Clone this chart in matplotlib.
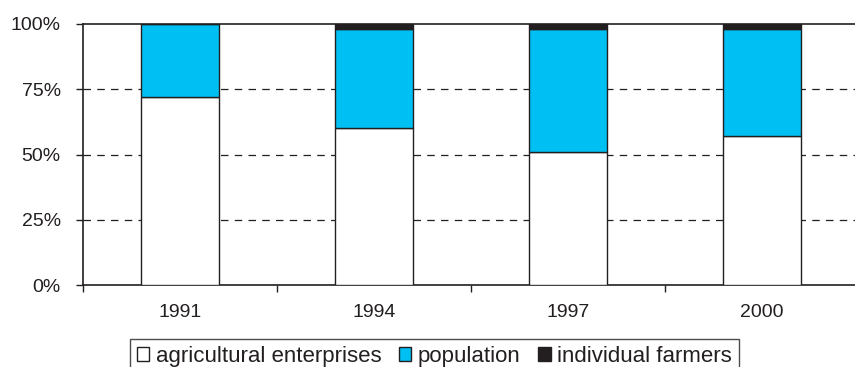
import matplotlib
matplotlib.use("Agg")
import matplotlib.pyplot as plt
import numpy as np
from matplotlib.patches import Patch

plt.rcParams['font.family'] = ['Liberation Sans', 'DejaVu Sans']

years = ["1991", "1994", "1997", "2000"]
agricultural_enterprises = [72, 60, 51, 57]
population = [28, 38, 47, 41]
individual_farmers = [0, 2, 2, 2]

series_names = ["agricultural enterprises", "population", "individual farmers"]
colors = ["#FFFFFF", "#00BFF3", "#231F20"]

fig = plt.figure(figsize=(8.55, 3.67), dpi=100)
ax = fig.add_axes([83 / 855, 1 - 285 / 367, 776 / 855, 261 / 367])

x = np.arange(len(years))
width = 0.40
bottom = np.zeros(len(years))
for vals, col in zip([agricultural_enterprises, population, individual_farmers], colors):
    vals = np.array(vals, dtype=float)
    ax.bar(x, vals, width, bottom=bottom, color=col, edgecolor="#231F20",
           linewidth=1.0, zorder=3)
    bottom += vals

ax.set_xlim(-0.5, len(years) - 0.5)
ax.set_ylim(0, 100)
ax.set_yticks([0, 25, 50, 75, 100])
ax.set_yticklabels([f"{v}%" for v in [0, 25, 50, 75, 100]], fontsize=14, color="#231F20")
ax.set_xticks(x)
ax.set_xticklabels(years, fontsize=14, color="#231F20")
ax.tick_params(axis="x", length=0, pad=13.5)
ax.set_xticks(np.arange(-0.5, len(years)), minor=True)
ax.tick_params(axis="x", which="minor", length=5, direction="out", width=1, color="#231F20")
ax.tick_params(axis="y", length=5, direction="out", width=1, color="#231F20", pad=11)

for v in [25, 50, 75]:
    ax.axhline(v, color="#231F20", linestyle=(0, (6, 5)), linewidth=0.9, zorder=1)

for side in ["left", "bottom", "top"]:
    ax.spines[side].set_color("#231F20")
    ax.spines[side].set_linewidth(1.2)
ax.spines["right"].set_visible(False)

handles = [Patch(facecolor=c, edgecolor="#231F20", linewidth=1.0) for c in colors]
leg = fig.legend(handles, series_names, loc="upper center", bbox_to_anchor=(0.508, 0.076),
                 ncol=3, fontsize=16, frameon=True, fancybox=False, handlelength=0.55,
                 handleheight=0.55, handletextpad=0.3, columnspacing=0.8,
                 borderpad=0.3, borderaxespad=0)
leg.get_frame().set_edgecolor("#231F20")
leg.get_frame().set_linewidth(1.0)
for t in leg.get_texts():
    t.set_color("#231F20")

fig.savefig("out.png", dpi=100)
